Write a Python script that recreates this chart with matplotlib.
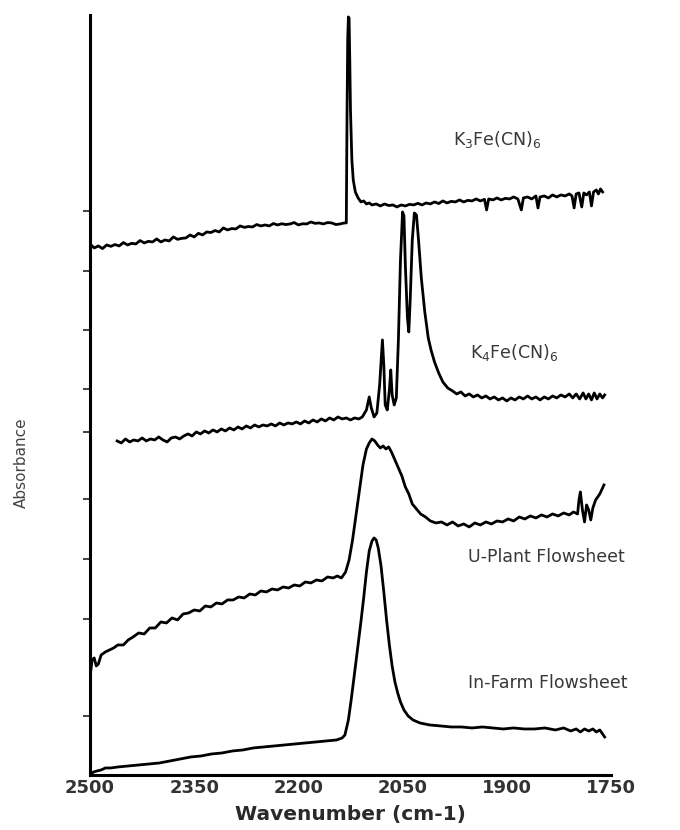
import matplotlib
matplotlib.use('Agg')
from matplotlib import pyplot

# IR spectra of the cyanide stretch region, offset vertically (arbitrary absorbance units)
k3_wn = [2500, 2494, 2488, 2482, 2476, 2470, 2464, 2458, 2452, 2446, 2440, 2434, 2428, 2422,
         2416, 2410, 2404, 2398, 2392, 2386, 2380, 2374, 2368, 2362, 2356, 2350, 2344, 2338,
         2332, 2326, 2320, 2314, 2308, 2302, 2296, 2290, 2284, 2278, 2272, 2266, 2260, 2254,
         2248, 2242, 2236, 2230, 2224, 2218, 2212, 2206, 2200, 2194, 2188, 2182, 2176, 2170,
         2164, 2158, 2152, 2146, 2140, 2134, 2131, 2130, 2129, 2128, 2127, 2126, 2125, 2123,
         2121, 2118, 2114, 2110, 2106, 2102, 2098, 2094, 2088, 2082, 2076, 2070, 2064, 2058,
         2052, 2046, 2040, 2034, 2028, 2022, 2016, 2010, 2004, 1998, 1992, 1986, 1980, 1974,
         1968, 1962, 1956, 1950, 1944, 1938, 1932, 1929, 1926, 1920, 1914, 1908, 1902, 1896,
         1890, 1884, 1879, 1876, 1870, 1864, 1858, 1855, 1852, 1846, 1840, 1834, 1828, 1822,
         1816, 1810, 1806, 1803, 1800, 1796, 1792, 1789, 1785, 1781, 1778, 1775, 1771, 1768,
         1765, 1762]
k3_abs = [2.655, 2.635, 2.645, 2.632, 2.650, 2.643, 2.652, 2.645, 2.662, 2.650, 2.658, 2.655,
          2.672, 2.660, 2.668, 2.665, 2.680, 2.665, 2.675, 2.670, 2.690, 2.678, 2.683, 2.685,
          2.700, 2.690, 2.708, 2.700, 2.715, 2.712, 2.722, 2.715, 2.735, 2.725, 2.732, 2.730,
          2.745, 2.738, 2.742, 2.740, 2.752, 2.745, 2.750, 2.745, 2.757, 2.750, 2.756, 2.752,
          2.755, 2.762, 2.750, 2.756, 2.755, 2.765, 2.758, 2.760, 2.755, 2.762, 2.760, 2.752,
          2.755, 2.760, 2.760, 3.275, 3.675, 3.790, 3.785, 3.575, 3.325, 3.075, 2.975, 2.915,
          2.885, 2.865, 2.870, 2.855, 2.860, 2.850, 2.855, 2.845, 2.855, 2.847, 2.850, 2.840,
          2.850, 2.845, 2.853, 2.850, 2.858, 2.850, 2.860, 2.855, 2.865, 2.857, 2.870, 2.860,
          2.868, 2.865, 2.875, 2.865, 2.873, 2.870, 2.880, 2.870, 2.878, 2.825, 2.880, 2.875,
          2.885, 2.875, 2.883, 2.880, 2.890, 2.880, 2.825, 2.885, 2.890, 2.880, 2.895, 2.835,
          2.890, 2.895, 2.885, 2.900, 2.890, 2.900, 2.895, 2.905, 2.895, 2.835, 2.905, 2.910,
          2.840, 2.910, 2.900, 2.915, 2.845, 2.915, 2.925, 2.905, 2.930, 2.915]

k4_wn = [2461, 2455, 2449, 2443, 2437, 2431, 2425, 2419, 2413, 2407, 2401, 2395, 2389, 2383,
         2377, 2371, 2365, 2359, 2353, 2347, 2341, 2335, 2329, 2323, 2317, 2311, 2305, 2299,
         2293, 2287, 2281, 2275, 2269, 2263, 2257, 2251, 2245, 2239, 2233, 2227, 2221, 2215,
         2209, 2203, 2197, 2191, 2185, 2179, 2173, 2167, 2161, 2155, 2149, 2143, 2137, 2131,
         2125, 2119, 2113, 2108, 2102, 2098, 2095, 2091, 2087, 2083, 2079, 2077, 2075, 2072,
         2069, 2067, 2065, 2062, 2059, 2056, 2053, 2050, 2048, 2046, 2043, 2041, 2039, 2036,
         2033, 2030, 2027, 2023, 2018, 2013, 2009, 2004, 1998, 1992, 1985, 1978, 1972, 1966,
         1960, 1954, 1948, 1942, 1936, 1930, 1924, 1918, 1912, 1906, 1900, 1894, 1888, 1882,
         1876, 1870, 1864, 1858, 1852, 1846, 1840, 1834, 1828, 1822, 1816, 1810, 1805, 1800,
         1795, 1790, 1786, 1782, 1778, 1774, 1770, 1766, 1762, 1759]
k4_abs = [1.670, 1.660, 1.680, 1.665, 1.675, 1.670, 1.685, 1.670, 1.680, 1.675, 1.690, 1.675,
          1.665, 1.685, 1.690, 1.680, 1.695, 1.705, 1.695, 1.715, 1.705, 1.720, 1.710, 1.725,
          1.715, 1.730, 1.720, 1.735, 1.725, 1.740, 1.730, 1.745, 1.735, 1.750, 1.740, 1.750,
          1.745, 1.755, 1.745, 1.760, 1.750, 1.760, 1.755, 1.765, 1.755, 1.770, 1.760, 1.775,
          1.765, 1.780, 1.770, 1.785, 1.775, 1.790, 1.780, 1.785, 1.775, 1.785, 1.780, 1.790,
          1.825, 1.890, 1.835, 1.790, 1.810, 1.950, 2.175, 2.050, 1.850, 1.825, 1.925, 2.025,
          1.900, 1.850, 1.885, 2.175, 2.575, 2.815, 2.795, 2.550, 2.285, 2.215, 2.375, 2.675,
          2.810, 2.800, 2.675, 2.485, 2.315, 2.185, 2.125, 2.065, 2.010, 1.965, 1.935, 1.920,
          1.905, 1.915, 1.895, 1.905, 1.890, 1.900, 1.885, 1.895, 1.880, 1.890, 1.875, 1.885,
          1.870, 1.885, 1.875, 1.890, 1.880, 1.895, 1.880, 1.890, 1.875, 1.890, 1.880, 1.895,
          1.885, 1.900, 1.890, 1.905, 1.885, 1.905, 1.880, 1.910, 1.880, 1.905, 1.875, 1.910,
          1.880, 1.905, 1.885, 1.900]

uplant_wn = [2500, 2497, 2494, 2491, 2488, 2484, 2478, 2472, 2466, 2460, 2452, 2445, 2438, 2430,
             2422, 2414, 2406, 2398, 2390, 2382, 2374, 2366, 2358, 2350, 2342, 2334, 2326, 2318,
             2310, 2302, 2294, 2286, 2278, 2270, 2262, 2254, 2246, 2238, 2230, 2222, 2214, 2206,
             2198, 2190, 2182, 2174, 2166, 2158, 2150, 2144, 2138, 2132, 2127, 2122, 2117, 2112,
             2107, 2102, 2098, 2094, 2090, 2086, 2082, 2078, 2074, 2070, 2066, 2061, 2056, 2051,
             2046, 2041, 2036, 2030, 2024, 2017, 2010, 2002, 1994, 1986, 1978, 1970, 1962, 1954,
             1946, 1938, 1930, 1922, 1914, 1906, 1898, 1890, 1882, 1874, 1866, 1858, 1850, 1842,
             1834, 1826, 1818, 1810, 1804, 1798, 1796, 1794, 1791, 1788, 1785, 1782, 1779, 1776,
             1772, 1766, 1760]
uplant_abs = [0.490, 0.575, 0.585, 0.545, 0.555, 0.600, 0.615, 0.625, 0.635, 0.650, 0.650, 0.675,
              0.690, 0.710, 0.705, 0.735, 0.735, 0.765, 0.760, 0.785, 0.775, 0.805, 0.810, 0.825,
              0.820, 0.845, 0.840, 0.860, 0.855, 0.875, 0.875, 0.890, 0.885, 0.905, 0.900, 0.920,
              0.915, 0.930, 0.925, 0.940, 0.935, 0.950, 0.945, 0.965, 0.960, 0.975, 0.970, 0.990,
              0.985, 0.995, 0.985, 1.015, 1.075, 1.175, 1.300, 1.425, 1.550, 1.630, 1.660, 1.680,
              1.670, 1.650, 1.635, 1.645, 1.630, 1.640, 1.615, 1.575, 1.535, 1.495, 1.440, 1.405,
              1.355, 1.330, 1.305, 1.290, 1.270, 1.260, 1.265, 1.250, 1.265, 1.245, 1.255, 1.240,
              1.260, 1.250, 1.265, 1.255, 1.270, 1.265, 1.280, 1.270, 1.290, 1.280, 1.295, 1.285,
              1.300, 1.290, 1.305, 1.295, 1.310, 1.300, 1.315, 1.305, 1.375, 1.415, 1.325, 1.265,
              1.350, 1.325, 1.275, 1.335, 1.375, 1.405, 1.450]

infarm_wn = [2500, 2495, 2490, 2484, 2478, 2470, 2460, 2445, 2430, 2415, 2400, 2385, 2370, 2355,
             2340, 2325, 2310, 2295, 2280, 2265, 2250, 2235, 2220, 2205, 2190, 2175, 2160, 2145,
             2137, 2133, 2128, 2124, 2120, 2115, 2110, 2106, 2102, 2098, 2094, 2091, 2088, 2085,
             2081, 2077, 2073, 2069, 2065, 2061, 2057, 2053, 2048, 2042, 2035, 2025, 2011, 1995,
             1980, 1965, 1950, 1935, 1920, 1905, 1890, 1875, 1860, 1845, 1830, 1818, 1808, 1800,
             1794, 1788, 1782, 1776, 1771, 1766, 1762, 1759]
infarm_abs = [0.000, 0.015, 0.020, 0.025, 0.035, 0.035, 0.040, 0.045, 0.050, 0.055, 0.060, 0.070,
              0.080, 0.090, 0.095, 0.105, 0.110, 0.120, 0.125, 0.135, 0.140, 0.145, 0.150, 0.155,
              0.160, 0.165, 0.170, 0.175, 0.185, 0.200, 0.275, 0.375, 0.485, 0.625, 0.765, 0.885,
              1.015, 1.120, 1.170, 1.185, 1.175, 1.135, 1.045, 0.915, 0.775, 0.650, 0.545, 0.465,
              0.410, 0.365, 0.325, 0.295, 0.275, 0.260, 0.250, 0.245, 0.240, 0.240, 0.235, 0.240,
              0.235, 0.230, 0.235, 0.230, 0.230, 0.235, 0.225, 0.235, 0.220, 0.230, 0.215, 0.230,
              0.220, 0.230, 0.215, 0.225, 0.205, 0.190]

x_ticks = [2500, 2350, 2200, 2050, 1900, 1750]
y_ticks = [0.295, 0.780, 1.080, 1.380, 1.715, 1.930, 2.225, 2.520, 2.820]

labels = [r'K$_3$Fe(CN)$_6$', r'K$_4$Fe(CN)$_6$', 'U-Plant Flowsheet', 'In-Farm Flowsheet']
label_pos = [(1977, 3.175), (1953, 2.110), (1956, 1.090), (1956, 0.460)]

fig = pyplot.figure(figsize=(6.8, 8.3), dpi=100)
ax = fig.add_axes([0.1324, 0.0663, 0.766, 0.9157])

for wn, ab in [(k3_wn, k3_abs), (k4_wn, k4_abs), (uplant_wn, uplant_abs), (infarm_wn, infarm_abs)]:
    ax.plot(wn, ab, color='black', linewidth=2.0, solid_joinstyle='round')

ax.set_xlim(2500, 1750)
ax.set_ylim(0, 3.8)
ax.set_xticks(x_ticks)
ax.set_yticks(y_ticks)
ax.set_yticklabels([])
ax.tick_params(axis='x', length=0, pad=3, labelsize=13, labelcolor='#333333')
ax.tick_params(axis='y', direction='out', length=5, width=1.2, color='#222222')

for side in ['top', 'right']:
    ax.spines[side].set_visible(False)
for side in ['left', 'bottom']:
    ax.spines[side].set_linewidth(2.2)
ax.spines['bottom'].set_position(('data', 0))

for text, (x, y) in zip(labels, label_pos):
    ax.text(x, y, text, fontsize=12.5, color='#383838', ha='left', va='center')

ax.set_xlabel('Wavenumber (cm-1)', fontsize=14.5, fontweight='bold', color='#2a2a2a', labelpad=6)
fig.text(0.032, 0.443, 'Absorbance', rotation=90, fontsize=11, color='#444444',
         family=['Liberation Sans Narrow', 'DejaVu Sans'], ha='center', va='center')

# bold tick numbers, applied once the tick labels exist
fig.canvas.draw()
for lbl in ax.get_xticklabels():
    lbl.set_fontweight('bold')

pyplot.savefig('out.png', dpi=100)
pyplot.close(fig)
